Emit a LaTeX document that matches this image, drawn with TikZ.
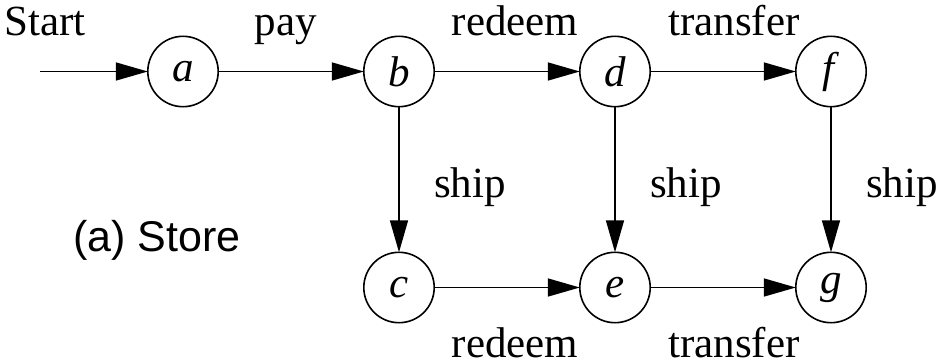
\documentclass[tikz,border=0pt]{standalone}
\usepackage{fontspec}
\setmainfont{Liberation Serif}
\setsansfont{Liberation Sans}
\usetikzlibrary{positioning,arrows.meta}

\begin{document}
\begin{tikzpicture}[every node/.style={outer sep=0pt,font=\fontsize{21.5}{24}\selectfont},node distance=108pt,on grid]
      \tikzstyle{state}=[circle,draw,line width=0.8pt,minimum size=35.2pt,inner sep=0pt]
      \tikzstyle{edge}=[line width=0.8pt,-{Triangle[length=16pt,width=9pt]}]
      \tikzstyle{lbl}=[inner sep=0pt,text height=15pt,text depth=5pt]

      \useasboundingbox (0,0) rectangle (469pt,-182pt);

      \node (a) at (91.5pt,-35.75pt) [state] {\textit{a}};
      \node (b) [state,right=of a] {\textit{b}};
      \node (d) [state,right=of b] {\textit{d}};
      \node (f) [state,right=of d] {\textit{f}};
      \node (c) [state,below=of b] {\textit{c}};
      \node (e) [state,below=of d] {\textit{e}};
      \node (g) [state,below=of f] {\textit{g}};
      \coordinate [left=54pt of a.west] (start);

      \node (store) [lbl,left=121pt of c,yshift=23pt,font=\sffamily\fontsize{21.5}{24}\selectfont] {(a) Store};

      \draw [edge] (start) -- (a) node[lbl,pos=0,above=13.25pt,xshift=2.5pt] {Start};
      \draw [edge] (a) -- (b) node[lbl,midway,above=13.25pt,xshift=-2.5pt] {pay};
      \draw [edge] (b) -- (d) node[lbl,midway,above=13.25pt,xshift=4pt] {redeem};
      \draw [edge] (d) -- (f) node[lbl,midway,above=13.25pt,xshift=5.5pt] {transfer};
      \draw [edge] (b) -- (c) node[lbl,midway,right=17.5pt,yshift=-4pt] {ship};
      \draw [edge] (d) -- (e) node[lbl,midway,right=17.5pt,yshift=-4pt] {ship};
      \draw [edge] (f) -- (g) node[lbl,midway,right=17.5pt,yshift=-4pt] {ship};
      \draw [edge] (c) -- (e) node[lbl,midway,below=20pt,xshift=4pt] {redeem};
      \draw [edge] (e) -- (g) node[lbl,midway,below=20pt,xshift=5.5pt] {transfer};
\end{tikzpicture}
\end{document}
